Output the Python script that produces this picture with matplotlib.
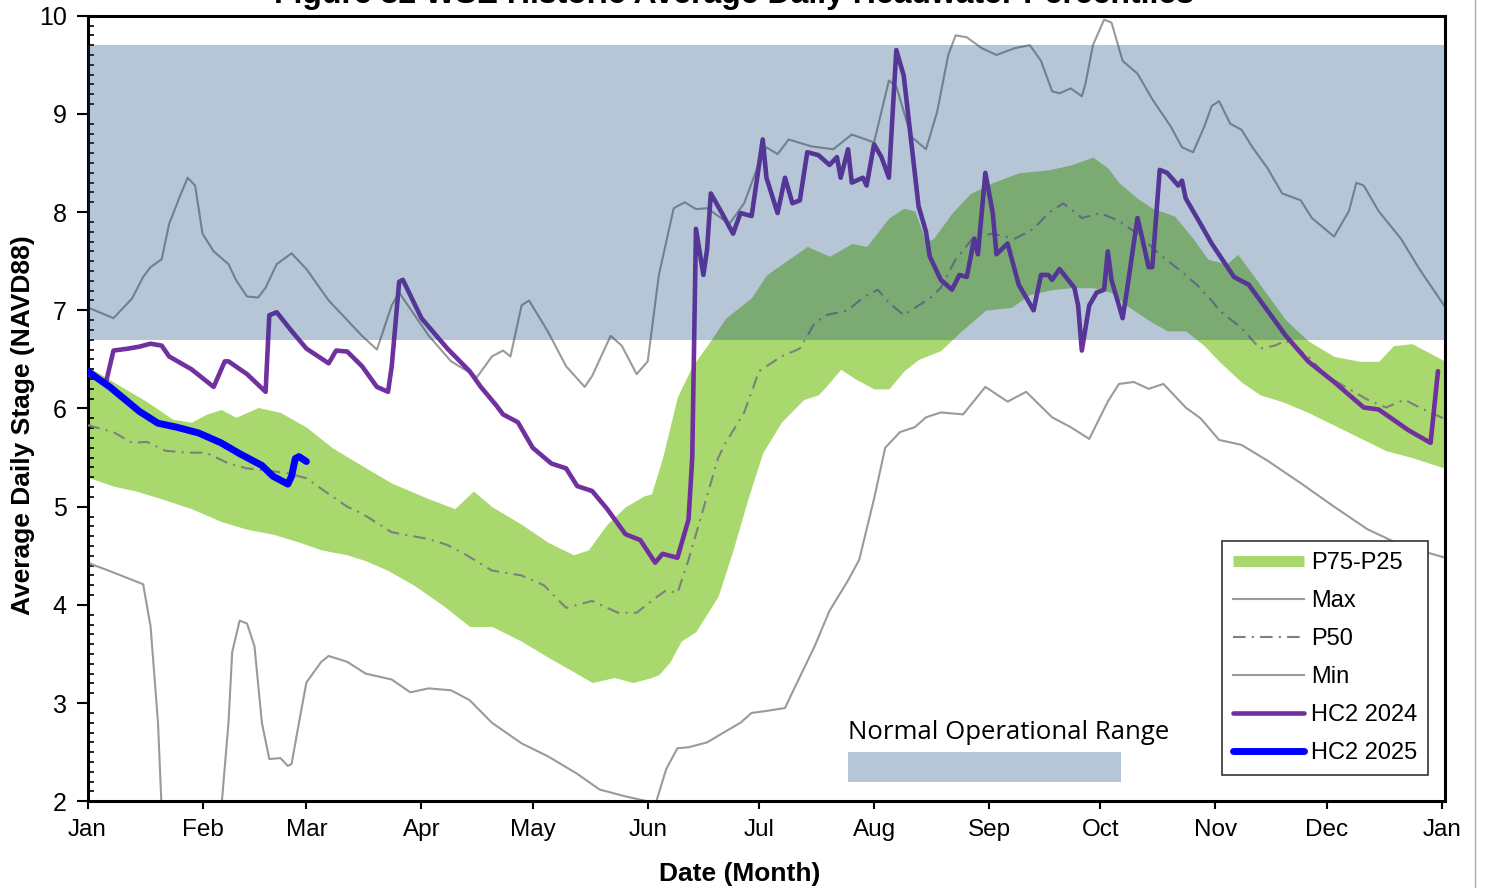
import matplotlib
matplotlib.use("Agg")
import numpy as np
import matplotlib.pyplot as plt
from matplotlib.lines import Line2D
from matplotlib.patches import Rectangle

plt.rcParams["font.family"] = ["Liberation Sans", "DejaVu Sans"]

# ---- month axis ----
month_start = [0, 31, 59, 90, 120, 151, 181, 212, 243, 273, 304, 334, 365]
month_labels = ["Jan", "Feb", "Mar", "Apr", "May", "Jun", "Jul",
                "Aug", "Sep", "Oct", "Nov", "Dec", "Jan"]

# ---- historic percentiles (day of year, stage ft NAVD88) ----
max_day = [0, 7, 10, 12, 15, 17, 20, 22, 25, 27, 29, 31, 34, 38, 40, 43, 46, 48, 51, 55,
           59, 65, 70, 74, 78, 82, 84, 92, 98, 105, 109, 112, 114, 117, 119, 124, 129,
           134, 136, 141, 144, 148, 151, 154, 158, 161, 164, 167, 173, 177, 181, 183,
           186, 189, 195, 201, 206, 212, 216, 218, 222, 226, 229, 232, 234, 237, 241,
           245, 250, 254, 257, 260, 262, 265, 268, 269, 271, 274, 276, 279, 283, 287,
           292, 295, 298, 301, 303, 305, 308, 311, 314, 318, 322, 327, 330, 336, 340,
           342, 344, 348, 354, 359, 366]
max_val = [7.03, 6.92, 7.04, 7.12, 7.34, 7.44, 7.52, 7.88, 8.17, 8.35, 8.27, 7.78, 7.60,
           7.47, 7.31, 7.14, 7.13, 7.23, 7.47, 7.58, 7.42, 7.10, 6.90, 6.74, 6.60, 7.05,
           7.18, 6.74, 6.48, 6.32, 6.53, 6.59, 6.53, 7.05, 7.10, 6.79, 6.43, 6.22, 6.33,
           6.74, 6.64, 6.35, 6.48, 7.36, 8.04, 8.10, 8.03, 8.04, 7.88, 8.09, 8.50, 8.66,
           8.59, 8.74, 8.67, 8.64, 8.79, 8.71, 9.34, 9.28, 8.77, 8.64, 9.02, 9.60, 9.80,
           9.78, 9.67, 9.60, 9.67, 9.70, 9.54, 9.23, 9.21, 9.26, 9.18, 9.31, 9.70, 9.96,
           9.93, 9.54, 9.41, 9.15, 8.87, 8.66, 8.61, 8.87, 9.08, 9.13, 8.90, 8.84, 8.66,
           8.45, 8.19, 8.12, 7.94, 7.75, 8.01, 8.30, 8.27, 8.01, 7.73, 7.42, 7.03]

min_day = [0, 7, 15, 17, 19, 20, 22, 34, 36, 38, 39, 41, 43, 45, 47, 49, 52, 54, 55, 57,
           59, 63, 65, 70, 75, 82, 87, 92, 98, 103, 109, 117, 124, 132, 138, 145, 151,
           153, 156, 159, 162, 167, 171, 176, 179, 183, 188, 190, 196, 200, 205, 208,
           212, 215, 219, 223, 226, 230, 236, 242, 248, 253, 260, 265, 270, 275, 278,
           282, 286, 290, 296, 300, 305, 311, 318, 327, 336, 345, 354, 366]
min_val = [4.43, 4.33, 4.21, 3.78, 2.80, 1.90, 0.50, 0.50, 1.90, 2.80, 3.52, 3.84, 3.81,
           3.58, 2.80, 2.43, 2.44, 2.36, 2.38, 2.80, 3.21, 3.42, 3.48, 3.42, 3.30, 3.24,
           3.11, 3.15, 3.13, 3.03, 2.80, 2.59, 2.46, 2.28, 2.12, 2.05, 2.00, 1.96, 2.33,
           2.54, 2.55, 2.60, 2.69, 2.80, 2.90, 2.92, 2.95, 3.11, 3.58, 3.94, 4.25, 4.46,
           5.08, 5.60, 5.76, 5.81, 5.91, 5.96, 5.94, 6.22, 6.07, 6.17, 5.91, 5.81, 5.69,
           6.07, 6.25, 6.27, 6.20, 6.25, 6.01, 5.90, 5.68, 5.63, 5.47, 5.24, 5.00, 4.77,
           4.61, 4.48]

p75_day = [0, 7, 16, 23, 28, 32, 36, 40, 46, 52, 59, 66, 73, 82, 92, 99, 104, 109, 117,
           124, 131, 135, 140, 145, 150, 152, 155, 159, 163, 167, 172, 179, 183, 189,
           194, 200, 206, 210, 216, 220, 223, 226, 228, 233, 238, 244, 251, 259, 265,
           271, 275, 278, 283, 287, 293, 298, 302, 305, 307, 310, 313, 318, 323, 329,
           336, 343, 348, 352, 357, 362, 366]
p75_val = [6.43, 6.27, 6.07, 5.89, 5.86, 5.94, 5.99, 5.91, 6.01, 5.96, 5.81, 5.60, 5.44,
           5.24, 5.08, 4.98, 5.16, 5.00, 4.82, 4.64, 4.51, 4.56, 4.82, 5.00, 5.11, 5.13,
           5.50, 6.12, 6.43, 6.64, 6.92, 7.13, 7.36, 7.52, 7.65, 7.55, 7.68, 7.65, 7.94,
           8.04, 8.01, 7.70, 7.73, 7.99, 8.19, 8.30, 8.40, 8.43, 8.48, 8.56, 8.45, 8.30,
           8.14, 8.04, 7.96, 7.73, 7.52, 7.49, 7.47, 7.57, 7.42, 7.16, 6.90, 6.69, 6.53,
           6.48, 6.48, 6.64, 6.66, 6.56, 6.48]

p25_day = [0, 7, 13, 20, 28, 36, 43, 50, 57, 63, 70, 75, 81, 88, 96, 103, 109, 117, 124,
           131, 136, 142, 147, 152, 154, 157, 160, 164, 170, 174, 178, 182, 187, 193,
           197, 199, 203, 207, 212, 216, 220, 224, 230, 235, 242, 249, 254, 260, 265,
           271, 276, 280, 286, 291, 296, 301, 305, 311, 316, 322, 329, 336, 343, 350,
           357, 366]
p25_val = [5.30, 5.21, 5.16, 5.08, 4.98, 4.85, 4.77, 4.72, 4.64, 4.56, 4.51, 4.45, 4.35,
           4.20, 3.99, 3.78, 3.78, 3.63, 3.47, 3.32, 3.21, 3.26, 3.21, 3.26, 3.29, 3.42,
           3.63, 3.73, 4.09, 4.56, 5.08, 5.55, 5.86, 6.09, 6.14, 6.22, 6.40, 6.30, 6.20,
           6.20, 6.38, 6.50, 6.59, 6.77, 7.00, 7.03, 7.16, 7.21, 7.23, 7.23, 7.18, 7.05,
           6.90, 6.79, 6.79, 6.64, 6.48, 6.27, 6.14, 6.07, 5.96, 5.83, 5.70, 5.57, 5.50,
           5.39]

p50_day = [0, 7, 12, 16, 21, 27, 32, 38, 43, 48, 54, 59, 65, 70, 74, 82, 92, 97, 102,
           109, 117, 123, 129, 136, 143, 148, 152, 156, 159, 162, 166, 170, 172, 177,
           181, 187, 192, 196, 199, 205, 209, 213, 216, 220, 224, 227, 230, 234, 239,
           244, 250, 255, 259, 263, 268, 273, 278, 283, 289, 294, 299, 303, 305, 311,
           316, 320, 323, 329, 334, 340, 345, 350, 355, 359, 366]
p50_val = [5.83, 5.76, 5.65, 5.66, 5.57, 5.55, 5.55, 5.44, 5.39, 5.37, 5.34, 5.29, 5.13,
           5.00, 4.93, 4.74, 4.67, 4.61, 4.51, 4.35, 4.30, 4.20, 3.97, 4.04, 3.92, 3.92,
           4.04, 4.15, 4.12, 4.46, 4.98, 5.50, 5.65, 5.96, 6.38, 6.53, 6.61, 6.87, 6.95,
           7.00, 7.13, 7.21, 7.08, 6.95, 7.05, 7.12, 7.23, 7.52, 7.75, 7.78, 7.73, 7.83,
           7.99, 8.09, 7.94, 7.99, 7.91, 7.78, 7.57, 7.42, 7.26, 7.10, 7.00, 6.82, 6.61,
           6.64, 6.69, 6.53, 6.33, 6.20, 6.09, 6.01, 6.09, 6.01, 5.89]

# ---- observed headwater ----
hc2024_day = [0, 5, 7, 11, 14, 17, 20, 22, 28, 34, 37, 38, 43, 48, 49, 51, 55, 59, 65,
              67, 70, 74, 78, 81, 82, 84, 85, 90, 97, 103, 106, 110, 112, 116, 120, 125,
              129, 132, 136, 140, 145, 149, 153, 155, 159, 162, 163, 164, 166, 167, 168,
              171, 174, 176, 179, 182, 183, 186, 188, 190, 192, 194, 197, 200, 202, 203,
              205, 206, 209, 210, 212, 214, 216, 218, 220, 224, 226, 227, 230, 233, 235,
              237, 239, 240, 242, 244, 245, 248, 251, 255, 257, 259, 260, 262, 266, 267,
              268, 270, 272, 274, 275, 276, 279, 280, 283, 284, 286, 287, 289, 291, 294,
              295, 296, 300, 303, 309, 313, 318, 323, 329, 336, 344, 348, 356, 362, 364]
hc2024_val = [6.35, 6.27, 6.59, 6.61, 6.63, 6.66, 6.64, 6.53, 6.40, 6.22, 6.48, 6.48,
              6.35, 6.17, 6.95, 6.98, 6.79, 6.61, 6.46, 6.59, 6.58, 6.43, 6.22, 6.17,
              6.43, 7.29, 7.31, 6.92, 6.61, 6.38, 6.22, 6.04, 5.94, 5.86, 5.60, 5.44,
              5.39, 5.21, 5.16, 4.98, 4.72, 4.66, 4.43, 4.52, 4.48, 4.87, 5.50, 7.83,
              7.36, 7.62, 8.19, 7.99, 7.78, 7.99, 7.96, 8.74, 8.35, 7.99, 8.35, 8.09,
              8.12, 8.61, 8.58, 8.48, 8.56, 8.35, 8.64, 8.30, 8.35, 8.27, 8.69, 8.56,
              8.35, 9.65, 9.39, 8.06, 7.80, 7.55, 7.31, 7.21, 7.36, 7.34, 7.73, 7.57,
              8.40, 7.99, 7.57, 7.68, 7.26, 7.00, 7.36, 7.36, 7.31, 7.42, 7.23, 7.05,
              6.59, 7.05, 7.18, 7.21, 7.60, 7.31, 6.92, 7.16, 7.94, 7.78, 7.44, 7.44,
              8.43, 8.40, 8.27, 8.32, 8.14, 7.88, 7.68, 7.34, 7.26, 7.00, 6.74, 6.48,
              6.27, 6.01, 5.99, 5.78, 5.65, 6.38]

hc2025_day = [0, 6, 14, 19, 24, 30, 36, 41, 47, 50, 54, 55, 56, 57, 59]
hc2025_val = [6.38, 6.22, 5.97, 5.85, 5.81, 5.75, 5.65, 5.54, 5.42, 5.31, 5.23, 5.31,
              5.49, 5.51, 5.46]

# normal operational range (ft)
op_range = (6.7, 9.7)

green = "#A9D86E"
gray = "#9A9A9A"
p50_gray = "#7F7F7F"
purple = "#7030A0"
blue = "#0000FF"
op_color = (18 / 255, 68 / 255, 125 / 255)
op_alpha = 0.30
dashdot = (0, (6, 3, 1, 3))

fig = plt.figure(figsize=(14.89, 8.88), dpi=100)
ax = fig.add_axes([0.05877, 0.09764, 0.91195, 0.88468])

# P75-P25 band on a shared day grid
band_days = sorted(set(p75_day) | set(p25_day))
band_hi = np.interp(band_days, p75_day, p75_val)
band_lo = np.interp(band_days, p25_day, p25_val)
ax.fill_between(band_days, band_lo, band_hi, color=green, lw=0, zorder=1)

ax.plot(max_day, max_val, color=gray, lw=1.5, zorder=2)
ax.plot(min_day, min_val, color=gray, lw=1.5, zorder=2)
ax.plot(p50_day, p50_val, color=p50_gray, lw=1.5, ls=dashdot, zorder=3)
ax.plot(hc2024_day, hc2024_val, color=purple, lw=3.3, zorder=4,
        solid_joinstyle="round", solid_capstyle="round")
ax.plot(hc2025_day, hc2025_val, color=blue, lw=5, zorder=5,
        solid_joinstyle="round", solid_capstyle="round")

# operational range shading over everything
ax.axhspan(op_range[0], op_range[1], color=op_color, alpha=op_alpha, lw=0, zorder=6)

ax.set_xlim(0, 366)
ax.set_ylim(2, 10)
ax.set_xticks(month_start)
ax.set_xticklabels(month_labels)
ax.set_yticks(range(2, 11))
ax.set_yticks(np.arange(2, 10.01, 0.1), minor=True)
ax.tick_params(axis="x", which="major", direction="out", length=6, width=1.5,
               labelsize=17.5, pad=7)
ax.tick_params(axis="y", which="major", direction="out", length=8, width=1.5,
               labelsize=18, pad=7)
ax.tick_params(axis="y", which="minor", direction="in", length=4, width=1.2)
ax.tick_params(axis="x", which="minor", bottom=False)
for s in ax.spines.values():
    s.set_linewidth(2.2)
    s.set_color("black")

ax.set_xlabel("Date (Month)", fontsize=19, fontweight="bold")
ax.set_ylabel("Average Daily Stage (NAVD88)", fontsize=19, fontweight="bold")
ax.xaxis.set_label_coords(0.4805, -0.077)
ax.yaxis.set_label_coords(-0.0385, 0.479)

fig.text(0.493, 1 - 3 / 888, "Figure 32 WSE Historic Average Daily Headwater Percentiles",
         ha="center", va="baseline", fontsize=23, fontweight="bold")

# legend
handles = [
    Line2D([], [], color=green, lw=8, solid_capstyle="butt"),
    Line2D([], [], color=gray, lw=1.5),
    Line2D([], [], color=p50_gray, lw=1.5, ls=dashdot),
    Line2D([], [], color=gray, lw=1.5),
    Line2D([], [], color=purple, lw=3.3, solid_capstyle="round"),
    Line2D([], [], color=blue, lw=5, solid_capstyle="round"),
]
labels = ["P75-P25", "Max", "P50", "Min", "HC2 2024", "HC2 2025"]
leg = ax.legend(handles, labels, loc="lower right", bbox_to_anchor=(0.987, 0.0335),
                borderaxespad=0, fontsize=17, handlelength=3.0, handletextpad=0.3,
                labelspacing=0.68, fancybox=False, framealpha=1, edgecolor="#333333",
                borderpad=0.45)
leg.get_frame().set_linewidth(1.2)
leg.set_zorder(10)

# operational range key
ax.text(0.560, 0.087, "Normal Operational Range", transform=ax.transAxes,
        fontsize=18.5, family=["Open Sans", "DejaVu Sans"], va="center", ha="left",
        zorder=11)
ax.add_patch(Rectangle((0.560, 0.0246), 0.201, 0.0382, transform=ax.transAxes,
                       facecolor=op_color, alpha=op_alpha, lw=0, zorder=11))

# thin frame line at the right edge of the figure
fig.add_artist(Line2D([1475 / 1489, 1475 / 1489], [0, 1], transform=fig.transFigure,
                      color="#AAAAAA", lw=1))

fig.savefig("out.png", dpi=100)
